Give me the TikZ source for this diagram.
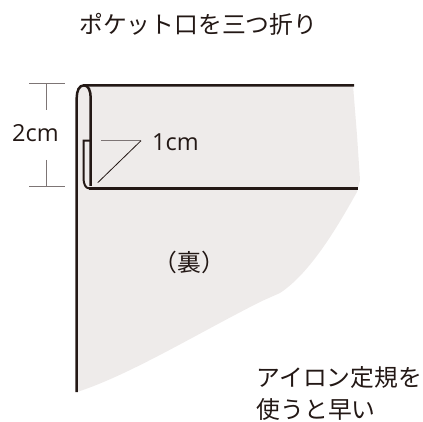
\documentclass[tikz,border=0pt]{standalone}
\usepackage{fontspec}
\setmainfont{Noto Sans CJK JP}[Scale=1]
\newfontfamily\lat{Open Sans}
\definecolor{fillgray}{HTML}{EEEBEA}
\definecolor{ink}{HTML}{231815}
\definecolor{dimgray}{HTML}{7D7575}
\tikzset{
 x=1pt,y=-1pt,
 heavy/.style={draw=ink,line width=2.5pt},
 thin line/.style={draw=ink,line width=0.8pt},
 dim/.style={draw=dimgray,line width=1.2pt},
 label/.style={inner sep=0pt,text=ink,font=\fontsize{23.8}{28}\selectfont,anchor=base west}
}
\begin{document}
\begin{tikzpicture}
\useasboundingbox (0,0) rectangle (423,422);
\fill[fillgray] (77,92) -- (84,85) -- (353,85) -- (357,135) -- (360,180) -- (357,192)
  .. controls (340,222) and (312,272) .. (280,293)
  -- (262,301) .. controls (200,332) and (130,375) .. (77,392) -- cycle;
\coordinate (tr) at (354,85.3);
\coordinate (br) at (357.7,188.3);
\coordinate (bl) at (76.7,392);
\draw[heavy] (tr) -- (84,85.3) .. controls (79,85.3) and (76.7,91) .. (76.7,98) -- (bl);
\draw[heavy] (84,85.3) .. controls (88.5,85.3) and (90.7,91) .. (90.7,98) -- (90.7,186);
\draw[heavy,line width=2pt] (90.7,140.7) -- (83.5,140.7) -- (83.5,178)
  .. controls (83.5,184) and (85.5,188.3) .. (89,188.3) -- (br);
\draw[dim] (29,83.7) -- (64.7,83.7) (46.7,83.7) -- (46.7,110);
\draw[dim] (29,186.7) -- (64.7,186.7) (46.7,160) -- (46.7,186.7);
\draw[dim] (101,140.7) -- (141,140.7);
\draw[thin line] (141,140.7) -- (97.7,182.7);
\draw[heavy] (89,188.3) -- (br);
\node[label] (title) at (79,33.7) {ポケット口を三つ折り};
\node[label,font=\lat\fontsize{23.5}{28}\selectfont] (two) at (12,141.7) {2cm};
\node[label,font=\lat\fontsize{23.5}{28}\selectfont] (one) at (152,150.5) {1cm};
\node[label] (ura) at (153.5,272) {（裏）};
\node[label] (a) at (256.5,386.7) {アイロン定規を};
\node[label] (b) at (256.5,418.3) {使うと早い};
\end{tikzpicture}
\end{document}
